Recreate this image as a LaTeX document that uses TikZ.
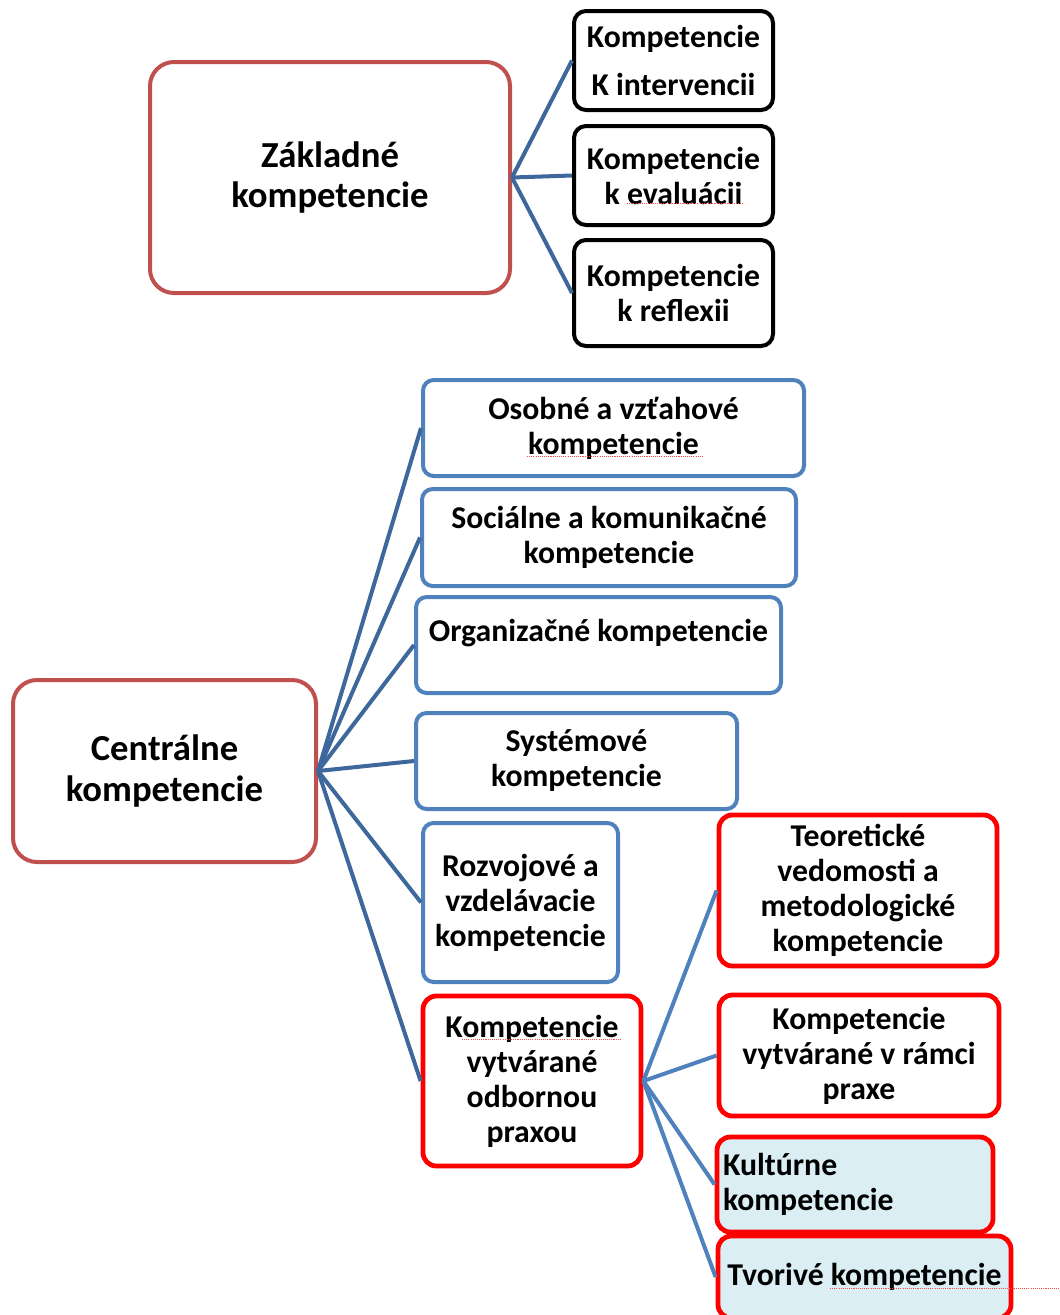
\documentclass[tikz,border=0pt]{standalone}
\usepackage{fontspec}
\setmainfont{Carlito}
\definecolor{softred}{HTML}{C0504D}
\definecolor{hotred}{HTML}{FF0000}
\definecolor{boxblue}{HTML}{4F81BD}
\definecolor{conndark}{RGB}{62,104,156}
\definecolor{connlight}{RGB}{79,129,189}
\definecolor{paleblue}{HTML}{DAEEF3}
\begin{document}
\begin{tikzpicture}[x=0.75pt,y=-0.75pt,
  sz/.style 2 args={minimum width=#1*0.75pt, minimum height=#2*0.75pt},
  basebox/.style={draw, align=center, inner sep=0pt, line width=3pt,
    font=\bfseries\fontsize{23.8}{26.25}\selectfont},
  mainbox/.style={basebox, draw=softred, rounded corners=18pt,
    font=\bfseries\fontsize{27.5}{30.5}\selectfont},
  blackbox/.style={basebox, draw=black, rounded corners=9pt},
  bluebox/.style={basebox, draw=boxblue, rounded corners=8pt},
  redbox/.style={basebox, draw=hotred, line width=3.6pt, rounded corners=10pt},
  conn/.style={draw=conndark, line width=3pt},
  subconn/.style={draw=connlight, line width=3pt},
  spell/.style={draw=red!70, line width=0.6pt, dash pattern=on 0.8pt off 0.8pt}
]
\useasboundingbox (0,0) rectangle (1060,1315);

% top group
\node[mainbox, sz={360}{231}] (zak) at (330,177.5) {Základné\\kompetencie};
\node[blackbox, sz={199}{99}] (k1) at (673.5,60.5) {Kompetencie\\[10pt]K intervencii};
\node[blackbox, sz={199}{99}] (k2) at (673.5,175.5) {Kompetencie\\k evaluácii};
\node[blackbox, sz={199}{106}] (k3) at (673.5,293) {Kompetencie\\k reflexii};

% central group
\node[mainbox, sz={303}{182}] (cen) at (164.5,771) {Centrálne\\kompetencie};
\node[bluebox, sz={381}{96}] (os) at (613.5,428) {Osobné a vzťahové\\kompetencie};
\node[bluebox, sz={374}{97}] (so) at (609,537.5) {Sociálne a komunikačné\\kompetencie};
\node[bluebox, sz={365}{96}] (org) at (598.5,645) {Organizačné kompetencie\\[-12pt]\strut};
\node[bluebox, sz={321}{96}] (sys) at (576.5,761) {Systémové\\kompetencie};
\node[bluebox, sz={195}{159}] (roz) at (520.5,902.5) {Rozvojové a\\vzdelávacie\\kompetencie};
\node[redbox, sz={218}{170}] (odb) at (532,1081) {Kompetencie\\vytvárané\\odbornou\\praxou};

% sub group
\node[redbox, sz={278}{151}] (teo) at (858,890.5) {Teoretické\\vedomosti a\\metodologické\\kompetencie};
\node[redbox, sz={280}{121}] (vyt) at (859,1055.5) {Kompetencie\\vytvárané v rámci\\praxe};
\node[redbox, fill=paleblue, sz={276}{95}, text width=264*0.75pt, align=left] (kul) at (855,1184.5) {Kultúrne\\kompetencie};
\node[redbox, fill=paleblue, sz={293}{82}] (tvo) at (864.5,1277) {Tvorivé kompetencie};

% connectors
\foreach \t in {k1,k2,k3} \draw[conn] (zak.east) -- (\t.west);
\foreach \t in {os,so,org,sys,roz,odb} \draw[conn] (cen.east) -- (\t.west);
\foreach \t in {teo,vyt,kul,tvo} \draw[subconn] (odb.east) -- (\t.west);

% spell-check underlines
\draw[spell] (627,203) -- (743,203);
\draw[spell] (527,456) -- (702,456);
\draw[spell] (462,1039) -- (620,1039);
\draw[spell] (830,1288) -- (1060,1288);
\end{tikzpicture}
\end{document}
